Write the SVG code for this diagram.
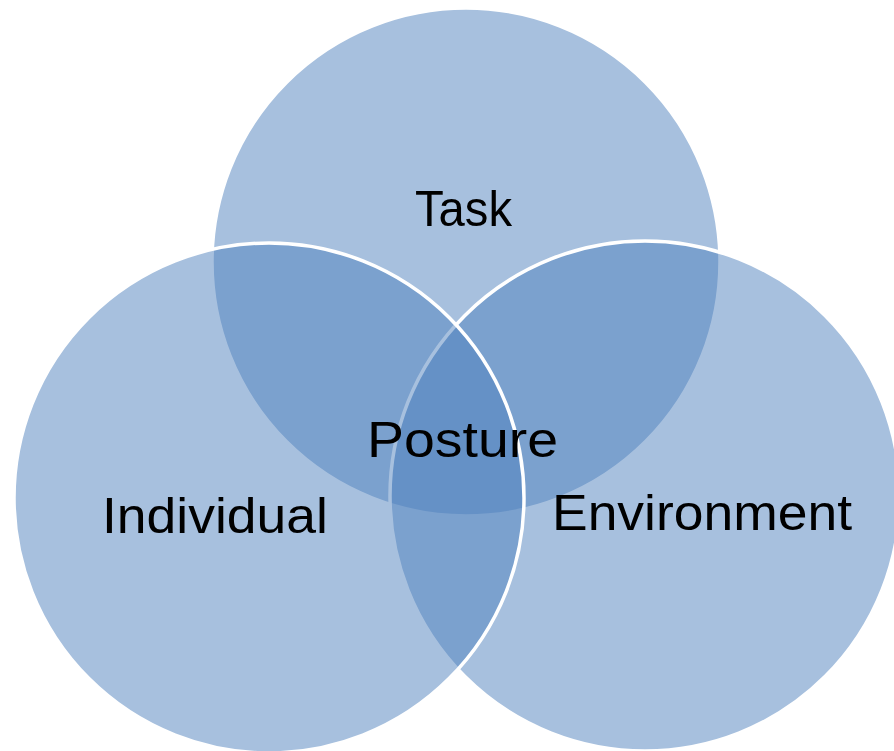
<svg xmlns="http://www.w3.org/2000/svg" width="894" height="751" viewBox="0 0 894 751">
<style>
.c{fill:#4F81BD;fill-opacity:0.5;stroke:#FFFFFF;stroke-width:3.5}
.t{font-family:"Liberation Sans",Arial,sans-serif;font-size:50px;fill:#000000}
</style>
<rect width="894" height="751" fill="#FFFFFF"/>
<g id="task"><circle class="c" cx="466" cy="262" r="254"/></g>
<g id="environment"><circle class="c" cx="645" cy="496" r="255"/></g>
<g id="individual"><circle class="c" cx="269" cy="498" r="255"/></g>
<g id="labels">
<text class="t" x="415" y="226" textLength="97" lengthAdjust="spacingAndGlyphs">Task</text>
<text class="t" x="367" y="457" textLength="191" lengthAdjust="spacingAndGlyphs">Posture</text>
<text class="t" x="102" y="533" textLength="226" lengthAdjust="spacingAndGlyphs">Individual</text>
<text class="t" x="552" y="530" textLength="300" lengthAdjust="spacingAndGlyphs">Environment</text>
</g>
<g id="connectors"></g>
</svg>
